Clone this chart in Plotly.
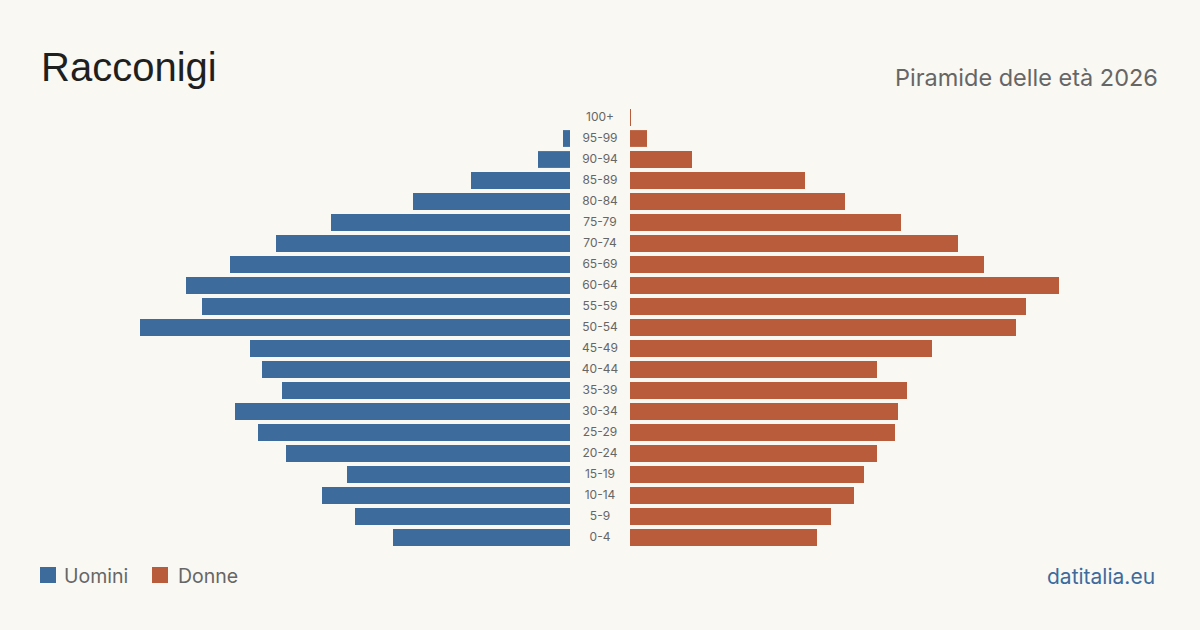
import plotly.graph_objects as go

ages = ["0-4", "5-9", "10-14", "15-19", "20-24", "25-29", "30-34", "35-39", "40-44",
        "45-49", "50-54", "55-59", "60-64", "65-69", "70-74", "75-79", "80-84",
        "85-89", "90-94", "95-99", "100+"]
uomini = [177, 215, 248, 223, 284, 312, 335, 288, 308, 320, 430, 368, 384, 340,
          294, 239, 157, 99, 32, 7, 0]
donne = [187, 201, 224, 234, 247, 265, 268, 277, 247, 302, 386, 396, 429, 354,
         328, 271, 215, 175, 62, 17, 1]
series_names = ["Uomini", "Donne"]

W, H = 1200, 630
BG = "#f9f8f3"
BLUE = "#3d6b9c"
RED = "#b95c3c"
GREY = "#666666"


def py(p):
    return (H - p) / H


fig = go.Figure()
fig.add_trace(go.Bar(y=ages, x=uomini, orientation="h", name=series_names[0],
                     marker=dict(color=BLUE, line=dict(width=0)),
                     xaxis="x", yaxis="y", width=0.8, showlegend=False))
fig.add_trace(go.Bar(y=ages, x=donne, orientation="h", name=series_names[1],
                     marker=dict(color=RED, line=dict(width=0)),
                     xaxis="x2", yaxis="y", width=0.8, showlegend=False))
fig.add_trace(go.Scatter(y=ages, x=[0] * len(ages), mode="text", text=ages,
                         textfont=dict(size=12, color=GREY, family="Inter"),
                         textposition="middle center", showlegend=False,
                         xaxis="x3", yaxis="y", hoverinfo="skip"))

y0 = py(548)
y1 = py(107)

shapes = [
    dict(type="rect", xref="paper", yref="paper", x0=40 / W, x1=56 / W,
         y0=py(583), y1=py(567), fillcolor=BLUE, line=dict(width=0)),
    dict(type="rect", xref="paper", yref="paper", x0=152 / W, x1=168 / W,
         y0=py(583), y1=py(567), fillcolor=RED, line=dict(width=0)),
]

fig.update_layout(
    width=W, height=H,
    margin=dict(l=0, r=0, t=0, b=0),
    paper_bgcolor=BG, plot_bgcolor=BG,
    bargap=0.2,
    xaxis=dict(domain=[40 / W, 570 / W], range=[530, 0], visible=False, fixedrange=True),
    xaxis2=dict(domain=[630 / W, 1160 / W], range=[0, 530], visible=False, fixedrange=True),
    xaxis3=dict(domain=[570 / W, 630 / W], range=[-1, 1], visible=False, fixedrange=True),
    yaxis=dict(domain=[y0, y1], type="category", categoryorder="array",
               categoryarray=ages, range=[-0.5, 20.5], visible=False, fixedrange=True),
    showlegend=False,
    shapes=shapes,
    annotations=[
        dict(text="Racconigi", x=39 / W, y=py(67), xref="paper", yref="paper",
             xanchor="left", yanchor="middle", showarrow=False,
             font=dict(size=40, color="#1f1f1f", family="Liberation Sans")),
        dict(text="Piramide delle età 2026", x=1160 / W, y=py(77), xref="paper", yref="paper",
             xanchor="right", yanchor="middle", showarrow=False,
             font=dict(size=23.5, color=GREY, family="Inter")),
        dict(text="datitalia.eu", x=1157 / W, y=py(576), xref="paper", yref="paper",
             xanchor="right", yanchor="middle", showarrow=False,
             font=dict(size=21, color=BLUE, family="Inter")),
        dict(text=series_names[0], x=62 / W, y=py(576), xref="paper", yref="paper",
             xanchor="left", yanchor="middle", showarrow=False,
             font=dict(size=19.5, color=GREY, family="Inter")),
        dict(text=series_names[1], x=176 / W, y=py(576), xref="paper", yref="paper",
             xanchor="left", yanchor="middle", showarrow=False,
             font=dict(size=19.5, color=GREY, family="Inter")),
    ],
)

fig.write_html("out.html")
